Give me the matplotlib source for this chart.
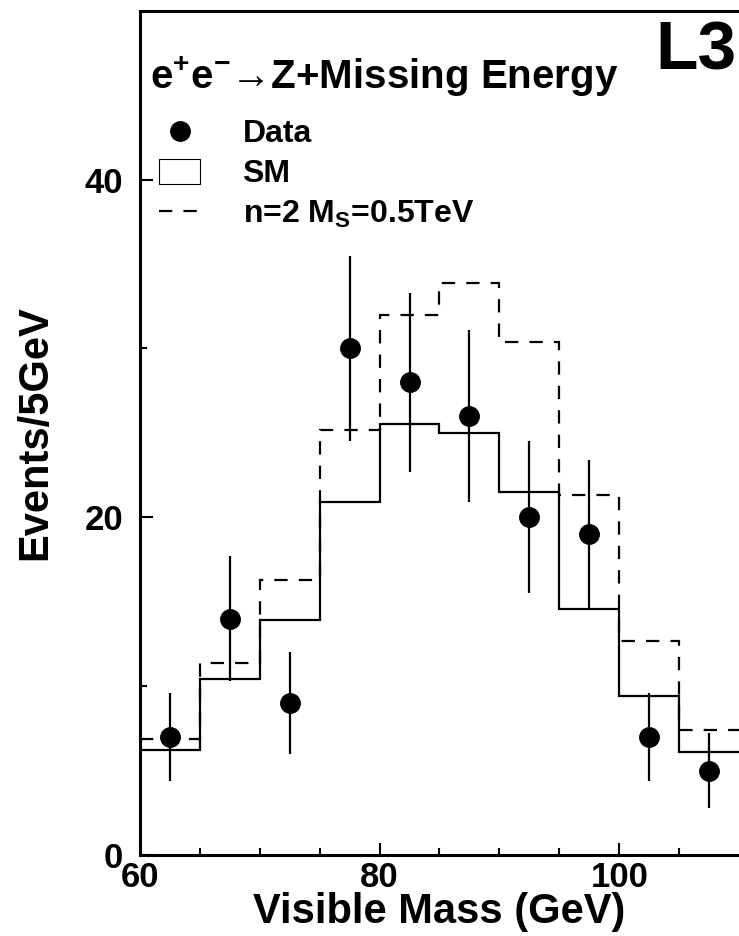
import numpy as np
import matplotlib
matplotlib.use("Agg")
import matplotlib.pyplot as plt
from matplotlib.lines import Line2D
from matplotlib.patches import Patch
from matplotlib.legend_handler import HandlerLine2D

# histogram bins (GeV)
edges = [60, 65, 70, 75, 80, 85, 90, 95, 100, 105, 110]
sm = [6.2, 10.4, 13.9, 20.9, 25.5, 25.0, 21.5, 14.6, 9.4, 6.1]
ms05 = [6.9, 11.4, 16.3, 25.2, 32.0, 33.9, 30.4, 21.3, 12.7, 7.4]

# data points
data_x = [62.5, 67.5, 72.5, 77.5, 82.5, 87.5, 92.5, 97.5, 102.5, 107.5]
data_y = [7, 14, 9, 30, 28, 26, 20, 19, 7, 5]
data_err = [2.6, 3.7, 3.0, 5.5, 5.3, 5.1, 4.5, 4.4, 2.6, 2.2]

plt.rcParams['font.family'] = ['Liberation Sans', 'DejaVu Sans']
plt.rcParams['font.weight'] = 'bold'
plt.rcParams['mathtext.fontset'] = 'custom'
plt.rcParams['mathtext.rm'] = 'Liberation Sans:bold'
plt.rcParams['mathtext.it'] = 'Liberation Sans:bold'
plt.rcParams['mathtext.bf'] = 'Liberation Sans:bold'


class RightMarker(HandlerLine2D):
    # legend marker sits at the right end of the key, as in the original
    def get_xdata(self, legend, xdescent, ydescent, width, height, fontsize):
        return [-xdescent, -xdescent + width], [-xdescent + width]


fig = plt.figure(figsize=(7.39, 9.36), dpi=100)
ax = fig.add_axes([0.1894, 0.0865, 0.8106, 0.902])

ax.stairs(sm, edges, color='black', linewidth=1.6, baseline=None)
ax.stairs(ms05, edges, color='black', linewidth=1.6, baseline=None,
          linestyle=(0, (6, 5)))
ax.errorbar(data_x, data_y, yerr=data_err, fmt='o', color='black',
            markersize=14, elinewidth=1.6, capsize=0)

ax.set_xlim(60, 110)
ax.set_ylim(0, 50)
ax.set_xticks([60, 80, 100])
ax.set_xticks(np.arange(65, 110, 5), minor=True)
ax.set_yticks([0, 20, 40])
ax.set_yticks([10, 30], minor=True)
ax.tick_params(which='both', direction='in', width=1.5, labelsize=25)
ax.tick_params(which='major', length=9)
ax.tick_params(which='minor', length=5)
ax.tick_params(axis='y', pad=12)
ax.tick_params(axis='x', pad=4)
for s in ['left', 'bottom', 'top']:
    ax.spines[s].set_linewidth(2.2)
ax.spines['right'].set_visible(False)

ax.set_xlabel('Visible Mass (GeV)', fontsize=30, fontweight='bold', labelpad=-1)
ax.set_ylabel('Events/5GeV', fontsize=30, fontweight='bold', labelpad=21)

ax.text(0.017, 0.922, 'e$^{+}$e$^{-}$\u2192Z+Missing Energy',
        transform=ax.transAxes, fontsize=29, fontweight='bold', va='center')
ax.text(0.995, 0.952, 'L3', transform=ax.transAxes, fontsize=50,
        fontweight='bold', ha='right', va='center')

data_key = Line2D([], [], marker='o', color='black', linestyle='none', markersize=14)
handles = [data_key,
           Patch(facecolor='white', edgecolor='black', linewidth=0.8),
           Line2D([], [], color='black', linewidth=1.6, linestyle=(0, (6, 5)))]
labels = ['Data', 'SM', r'n=2 M$_{S}$=0.5TeV']
ax.legend(handles, labels, loc='upper left', bbox_to_anchor=(0.032, 0.872),
          frameon=False, fontsize=23, handlelength=1.29, handleheight=0.82,
          labelspacing=0.3, handletextpad=1.32, borderpad=0, borderaxespad=0,
          handler_map={data_key: RightMarker(numpoints=1)})

fig.savefig('out.png', dpi=100)
